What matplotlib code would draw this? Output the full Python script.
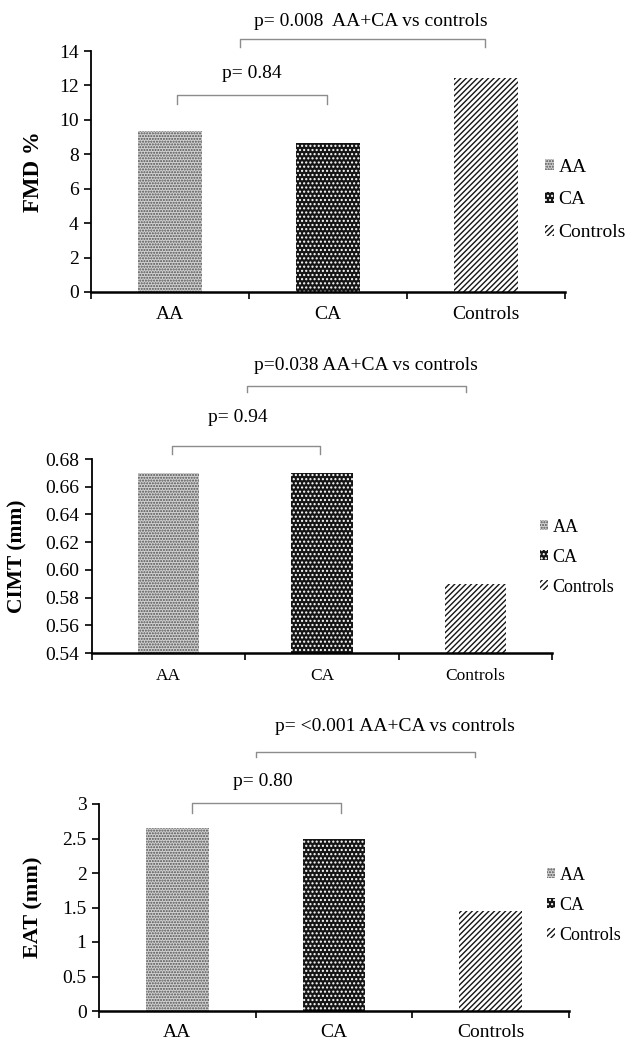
import matplotlib
matplotlib.use('Agg')
import numpy as np
import matplotlib.pyplot as plt
from matplotlib.patches import Patch

plt.rcParams['font.family'] = ['Liberation Serif', 'DejaVu Serif']
plt.rcParams['hatch.linewidth'] = 1.0

# data
groups = ['AA', 'CA', 'Controls']
fmd = [9.35, 8.68, 12.42]
cimt = [0.67, 0.67, 0.59]
eat = [2.65, 2.49, 1.45]

fmd_ticks = [0, 2, 4, 6, 8, 10, 12, 14]
cimt_ticks = [0.54, 0.56, 0.58, 0.60, 0.62, 0.64, 0.66, 0.68]
eat_ticks = [0, 0.5, 1, 1.5, 2, 2.5, 3]

p_pair = ['p= 0.84', 'p= 0.94', 'p= 0.80']
p_all = ['p= 0.008  AA+CA vs controls', 'p=0.038 AA+CA vs controls',
         'p= <0.001 AA+CA vs controls']

W, H = 627, 1043
fig = plt.figure(figsize=(W / 100, H / 100), dpi=100)

styles = [
    dict(facecolor='#d2d2d2', edgecolor='#505050', hatch='......'),
    dict(facecolor='#151515', edgecolor='white', hatch='....'),
    dict(facecolor='white', edgecolor='#151515', hatch='//////'),
]


def px_axes(l, t, r, b):
    return fig.add_axes([l / W, 1 - b / H, (r - l) / W, (b - t) / H])


def panel(ax, values, ylim, yticks, ylabels, ylabel, ylabel_x, ylabel_fs,
          tick_fs, xtick_fs, xpad, pair, overall, leg_xy, leg_fs, leg_sp):
    x = np.arange(len(groups))
    for xi, v, st in zip(x, values, styles):
        ax.bar(xi, v, width=0.4, linewidth=0, **st)

    ax.set_xlim(-0.5, 2.5)
    ax.set_ylim(*ylim)
    ax.set_yticks(yticks)
    ax.set_yticklabels(ylabels)
    ax.set_xticks([-0.5, 0.5, 1.5, 2.5])
    ax.set_xticklabels([])
    ax.set_xticks(x, minor=True)
    ax.set_xticklabels(groups, minor=True)
    ax.tick_params(axis='x', which='major', length=5, width=1.2, direction='out')
    ax.tick_params(axis='x', which='minor', length=0, pad=xpad, labelsize=xtick_fs)
    ax.tick_params(axis='y', length=5, width=1.2, pad=4, labelsize=tick_fs)
    for s in ['top', 'right']:
        ax.spines[s].set_visible(False)
    ax.spines['left'].set_linewidth(1.3)
    ax.spines['bottom'].set_linewidth(1.8)

    ax.text(ylabel_x, 0.5, ylabel, transform=ax.transAxes, rotation=90,
            ha='center', va='center', fontsize=ylabel_fs, fontweight='bold')

    # significance brackets
    for x0, x1, ytop, yleg, tx, ty in [pair, overall]:
        ax.plot([x0, x0, x1, x1], [yleg, ytop, ytop, yleg], color='#8c8c8c',
                lw=1, clip_on=False)

    handles = [Patch(linewidth=0, **st) for st in styles]
    ax.legend(handles, groups, loc='center left',
              bbox_to_anchor=(leg_xy[0] / W, 1 - leg_xy[1] / H),
              bbox_transform=fig.transFigure, frameon=False, fontsize=leg_fs,
              handlelength=0.45, handleheight=0.5, handletextpad=0.25,
              labelspacing=leg_sp, borderpad=0, borderaxespad=0)


ax1 = px_axes(91, 51, 565, 292)
pair1 = (0.044, 0.994, 11.45, 10.92, 0.52, 12.7)
all1 = (0.443, 1.994, 14.7, 14.24, 1.27, 15.7)
panel(ax1, fmd, (0, 14), fmd_ticks, [str(t) for t in fmd_ticks], 'FMD %',
      -0.122, 16.5, 14, 14, 10, pair1, all1, (545, 200), 14, 0.82)
ax1.text(pair1[4], pair1[5], p_pair[0], ha='center', va='center', fontsize=14)
ax1.text(all1[4], all1[5], p_all[0], ha='center', va='center', fontsize=14)

ax2 = px_axes(92, 459, 552, 653)
pair2 = (0.022, 0.987, 0.6894, 0.6836, 0.452, 0.710)
all2 = (0.511, 1.94, 0.7327, 0.7283, 1.287, 0.7478)
panel(ax2, cimt, (0.54, 0.68), cimt_ticks, ['%.2f' % t for t in cimt_ticks],
      'CIMT (mm)', -0.163, 15.5, 14, 12.5, 11, pair2, all2, (540, 557), 13, 0.72)
ax2.text(pair2[4], pair2[5], p_pair[1], ha='center', va='center', fontsize=14)
ax2.text(all2[4], all2[5], p_all[1], ha='center', va='center', fontsize=14)

ax3 = px_axes(99, 804, 569, 1011)
pair3 = (0.093, 1.044, 3.014, 2.87, 0.547, 3.33)
all3 = (0.502, 1.90, 3.754, 3.68, 1.386, 4.12)
panel(ax3, eat, (0, 3), eat_ticks, ['%g' % t for t in eat_ticks],
      'EAT (mm)', -0.140, 16, 14, 14, 9.5, pair3, all3, (547, 905), 13, 0.72)
ax3.text(pair3[4], pair3[5], p_pair[2], ha='center', va='center', fontsize=14)
ax3.text(all3[4], all3[5], p_all[2], ha='center', va='center', fontsize=14)

fig.savefig('out.png', dpi=100)
